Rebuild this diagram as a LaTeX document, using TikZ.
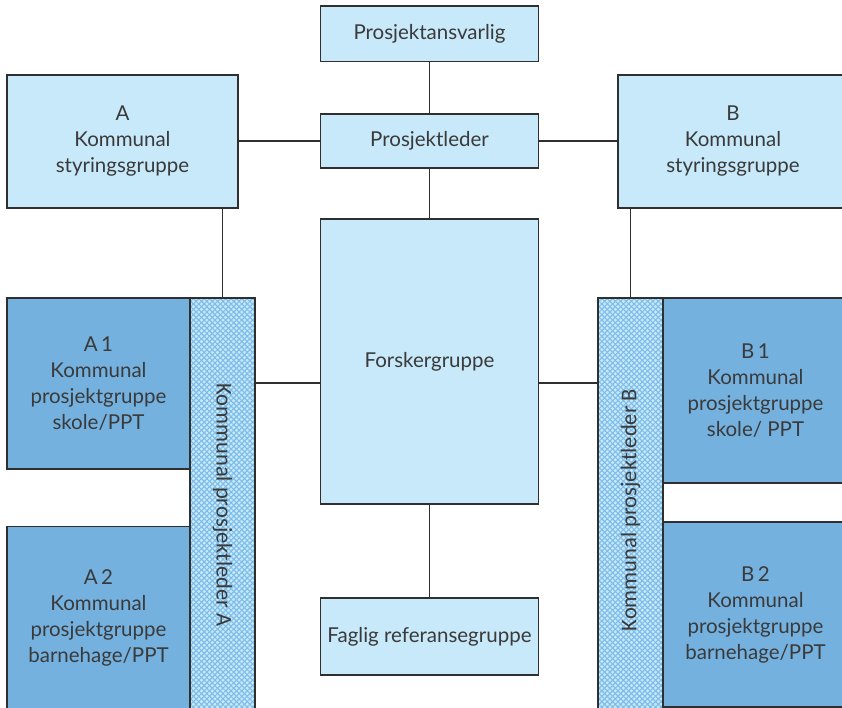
\documentclass[tikz,border=0pt]{standalone}
\usepackage{fontspec}
\setmainfont{Lato}
\newfontfamily\stripfont{Carlito}
\usetikzlibrary{patterns.meta}
\definecolor{lightbox}{HTML}{C7E9F9}
\definecolor{darkbox}{HTML}{74B1DF}
\definecolor{hatchc}{HTML}{7DBCEA}
\definecolor{edgec}{HTML}{2F2F2F}
\definecolor{textc}{HTML}{3A3A3A}
\begin{document}
\begin{tikzpicture}[x=1pt,y=-1pt,
  box/.style={rectangle, draw=edgec, line width=1.3pt, inner sep=0pt, align=center,
    text=textc, font=\fontsize{20.5}{26}\selectfont},
  lbox/.style={box, fill=lightbox},
  dbox/.style={box, fill=darkbox},
  strip/.style={box, fill=lightbox,
    postaction={pattern={Lines[angle=45,distance=3.8pt,line width=1.1pt]}, pattern color=hatchc},
    postaction={pattern={Lines[angle=-45,distance=3.8pt,line width=1.1pt]}, pattern color=hatchc},
    postaction={draw=edgec, line width=1.3pt},
    font=\stripfont\fontsize{22.5}{26}\selectfont},
  conn/.style={draw=edgec, line width=1.2pt}
]
\useasboundingbox (0,0) rectangle (842,707);

\node[lbox, minimum width=218pt, minimum height=55.5pt] (pa) at (429.5,33.75) {Prosjektansvarlig};
\node[lbox, minimum width=218pt, minimum height=54pt] (pl) at (429.5,141) {Prosjektleder};
\node[lbox, minimum width=231pt, minimum height=133pt] (A) at (122.5,141.5) {A\\Kommunal\\styringsgruppe};
\node[lbox, minimum width=230pt, minimum height=133pt] (B) at (733,141.5) {B\\Kommunal\\styringsgruppe};
\node[lbox, minimum width=218pt, minimum height=285pt] (fg) at (429.5,361.5) {Forskergruppe};
\node[lbox, minimum width=218pt, minimum height=77pt] (fr) at (429.5,636.5) {Faglig referansegruppe};

\node[dbox, minimum width=183pt, minimum height=171pt] (A1) at (98.5,383.5) {A\,1\\Kommunal\\prosjektgruppe\\skole/PPT};
\node[dbox, minimum width=183pt, minimum height=183pt] (A2) at (98.5,618) {A\,2\\Kommunal\\prosjektgruppe\\barnehage/PPT};
\node[strip, minimum width=65pt, minimum height=414pt] (sA) at (222.5,505) {\rotatebox{-90}{Kommunal prosjektleder A}};

\node[dbox, minimum width=185pt, minimum height=185pt] (B1) at (755.5,390.5) {B\,1\\Kommunal\\prosjektgruppe\\skole/ PPT};
\node[dbox, minimum width=185pt, minimum height=185pt] (B2) at (755.5,614.5) {B\,2\\Kommunal\\prosjektgruppe\\barnehage/PPT};
\node[strip, minimum width=65pt, minimum height=414pt] (sB) at (630.5,505) {\rotatebox{90}{Kommunal prosjektleder B\hspace{10pt}}};

\draw[conn] (pa.south) -- (pl.north);
\draw[conn] (pl.south) -- (fg.north);
\draw[conn] (pl.west) -- (pl.west -| A.east);
\draw[conn] (pl.east) -- (pl.east -| B.west);
\draw[conn] (A.south -| sA.north) -- (sA.north);
\draw[conn] (B.south -| sB.north) -- (sB.north);
\coordinate (fgL) at ([yshift=-21.5pt]fg.west);
\coordinate (fgR) at ([yshift=-21.5pt]fg.east);
\draw[conn] (fgL) -- (fgL -| sA.east);
\draw[conn] (fgR) -- (fgR -| sB.west);
\draw[conn] (fg.south) -- (fr.north);
\end{tikzpicture}
\end{document}
